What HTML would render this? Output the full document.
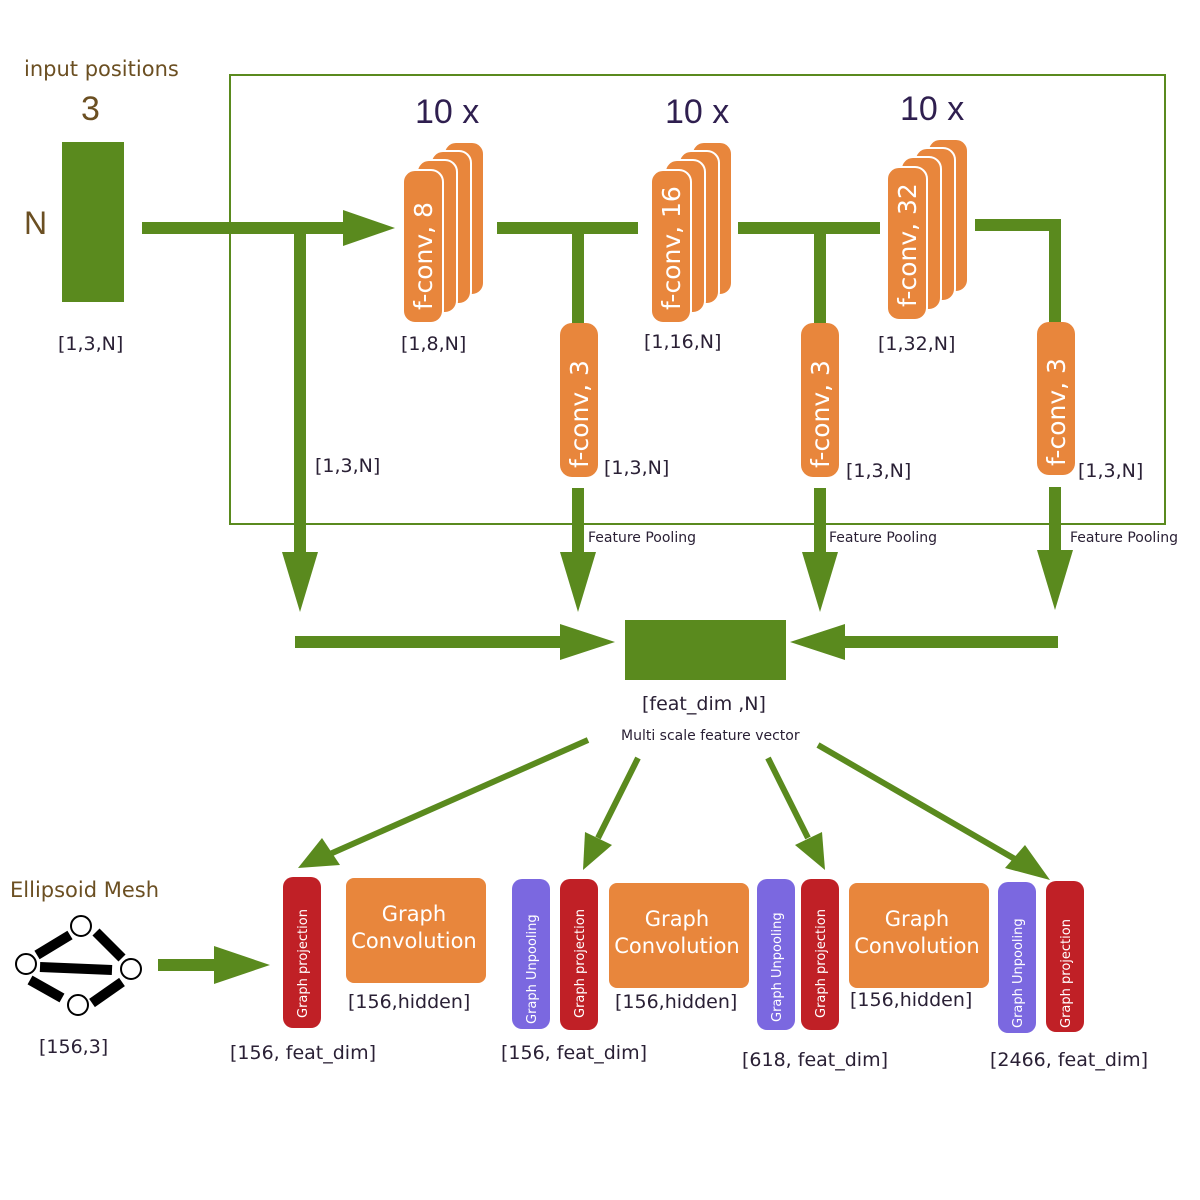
<!DOCTYPE html>
<html><head><meta charset="utf-8"><style>body{margin:0;background:#fff}svg{display:block}text{font-family:"DejaVu Sans","Liberation Sans",sans-serif}text.lib{font-family:"Liberation Sans",sans-serif}</style></head><body>
<svg width="1200" height="1200" viewBox="0 0 1200 1200" xmlns="http://www.w3.org/2000/svg">
<defs>
<g id="card"><rect x="0" y="0" width="40" height="153" rx="12" fill="#e8863c" stroke="#fff" stroke-width="2"/></g>
</defs>
<rect x="230" y="75" width="935" height="449" fill="none" stroke="#5a8a1e" stroke-width="2"/>
<text x="24" y="76" font-size="21" fill="#6b4f22">input positions</text>
<text class="lib" x="81" y="120" font-size="34" fill="#6b4f22">3</text>
<text class="lib" x="24" y="234" font-size="32" fill="#6b4f22">N</text>
<rect x="62" y="142" width="62" height="160" fill="#5a8a1e"/>
<text x="58" y="350" font-size="19" fill="#2a2035">[1,3,N]</text>
<g fill="#5a8a1e">
<rect x="142" y="222" width="210" height="12"/>
<polygon points="343,210 395,228 343,246"/>
<rect x="294" y="228" width="12" height="330"/>
<polygon points="282,552 318,552 300,612"/>
<rect x="497" y="222" width="141" height="12"/><rect x="572" y="228" width="12" height="97"/>
<rect x="572" y="488" width="12" height="65"/><polygon points="560,552 596,552 578,612"/>
<rect x="738" y="222" width="142" height="12"/><rect x="814" y="228" width="12" height="97"/>
<rect x="814" y="488" width="12" height="65"/><polygon points="802,552 838,552 820,612"/>
<rect x="975" y="219" width="86" height="12"/><rect x="1049" y="225" width="12" height="97"/>
<rect x="1049" y="487" width="12" height="65"/><polygon points="1037,550 1073,550 1055,610"/>
<rect x="295" y="636" width="270" height="12"/><polygon points="560,624 615,642 560,660"/>
<rect x="840" y="636" width="218" height="12"/><polygon points="845,624 790,642 845,660"/>
<rect x="625" y="620" width="161" height="60"/>
<rect x="158" y="959" width="60" height="12"/><polygon points="214,946 270,965 214,984"/>
</g>
<g stroke="#5a8a1e" stroke-width="6" fill="none">
<line x1="588" y1="740" x2="330" y2="854"/><line x1="638" y1="758" x2="598" y2="838"/>
<line x1="768" y1="758" x2="808" y2="838"/><line x1="818" y1="745" x2="1020" y2="862"/>
</g>
<g fill="#5a8a1e">
<polygon points="298,868 322,838 340,865"/>
<polygon points="583,870 585,832 612,845"/>
<polygon points="825,870 795,845 822,832"/>
<polygon points="1050,880 1005,868 1025,845"/>
</g>
<g><use href="#card" x="444" y="142"/><use href="#card" x="431" y="151"/><use href="#card" x="417" y="160"/><use href="#card" x="403" y="170"/>
<text transform="translate(432,310) rotate(-90)" font-size="25" fill="#fff">f-conv, 8</text></g>
<g><use href="#card" x="692" y="142"/><use href="#card" x="679" y="151"/><use href="#card" x="665" y="160"/><use href="#card" x="651" y="170"/>
<text transform="translate(680,310) rotate(-90)" font-size="25" fill="#fff">f-conv, 16</text></g>
<g><use href="#card" x="928" y="139"/><use href="#card" x="915" y="148"/><use href="#card" x="901" y="157"/><use href="#card" x="887" y="167"/>
<text transform="translate(916,307) rotate(-90)" font-size="25" fill="#fff">f-conv, 32</text></g>
<g font-size="34" fill="#2f1f4f">
<text class="lib" x="415" y="123">10 x</text>
<text class="lib" x="665" y="123">10 x</text>
<text class="lib" x="900" y="120">10 x</text></g>
<text x="401" y="350" font-size="19" fill="#2a2035">[1,8,N]</text>
<text x="644" y="348" font-size="19" fill="#2a2035">[1,16,N]</text>
<text x="878" y="350" font-size="19" fill="#2a2035">[1,32,N]</text>
<g fill="#e8863c"><rect x="560" y="323" width="38" height="154" rx="12"/><rect x="801" y="323" width="38" height="154" rx="12"/><rect x="1037" y="322" width="38" height="153" rx="12"/></g>
<g font-size="25" fill="#fff">
<text transform="translate(588,468) rotate(-90)">f-conv, 3</text>
<text transform="translate(829,468) rotate(-90)">f-conv, 3</text>
<text transform="translate(1065,466) rotate(-90)">f-conv, 3</text></g>
<g font-size="19" fill="#2a2035">
<text x="315" y="472">[1,3,N]</text><text x="604" y="474">[1,3,N]</text><text x="846" y="477">[1,3,N]</text><text x="1078" y="477">[1,3,N]</text>
<text x="642" y="710">[feat_dim ,N]</text>
</g>
<g font-size="14" fill="#2a2035">
<text x="588" y="542">Feature Pooling</text><text x="829" y="542">Feature Pooling</text><text x="1070" y="542">Feature Pooling</text>
<text x="621" y="740">Multi scale feature vector</text></g>
<text x="10" y="897" font-size="21" fill="#6b4f22">Ellipsoid Mesh</text>
<g stroke="#000" stroke-width="10"><line x1="37" y1="955" x2="70" y2="935"/><line x1="96" y1="932" x2="122" y2="958"/><line x1="40" y1="967" x2="112" y2="970"/><line x1="30" y1="980" x2="62" y2="998"/><line x1="92" y1="1003" x2="122" y2="982"/></g>
<g fill="#fff" stroke="#000" stroke-width="2"><circle cx="81" cy="926" r="10"/><circle cx="26" cy="964" r="10"/><circle cx="131" cy="969" r="10"/><circle cx="78" cy="1005" r="10"/></g>
<text x="39" y="1053" font-size="19" fill="#2a2035">[156,3]</text>
<g fill="#c02026"><rect x="283" y="877" width="38" height="151" rx="10"/><rect x="560" y="879" width="38" height="151" rx="10"/><rect x="801" y="879" width="38" height="151" rx="10"/><rect x="1046" y="881" width="38" height="151" rx="10"/></g>
<g fill="#7b68e0"><rect x="512" y="879" width="38" height="150" rx="10"/><rect x="757" y="879" width="38" height="151" rx="10"/><rect x="998" y="882" width="38" height="151" rx="10"/></g>
<g fill="#e8863c"><rect x="346" y="878" width="140" height="105" rx="8"/><rect x="609" y="883" width="140" height="105" rx="8"/><rect x="849" y="883" width="140" height="105" rx="8"/></g>
<g font-size="13" fill="#fff">
<text transform="translate(307,1018) rotate(-90)">Graph projection</text>
<text transform="translate(584,1018) rotate(-90)">Graph projection</text>
<text transform="translate(825,1018) rotate(-90)">Graph projection</text>
<text transform="translate(1070,1028) rotate(-90)">Graph projection</text>
<text transform="translate(536,1024) rotate(-90)">Graph Unpooling</text>
<text transform="translate(781,1022) rotate(-90)">Graph Unpooling</text>
<text transform="translate(1022,1028) rotate(-90)">Graph Unpooling</text></g>
<g font-size="21" fill="#fff" text-anchor="middle">
<text x="414" y="921">Graph</text><text x="414" y="948">Convolution</text>
<text x="677" y="926">Graph</text><text x="677" y="953">Convolution</text>
<text x="917" y="926">Graph</text><text x="917" y="953">Convolution</text></g>
<g font-size="19" fill="#2a2035">
<text x="348" y="1008">[156,hidden]</text><text x="615" y="1008">[156,hidden]</text><text x="850" y="1006">[156,hidden]</text>
<text x="230" y="1059">[156, feat_dim]</text><text x="501" y="1059">[156, feat_dim]</text><text x="742" y="1066">[618, feat_dim]</text><text x="990" y="1066">[2466, feat_dim]</text></g>
</svg>
</body></html>
